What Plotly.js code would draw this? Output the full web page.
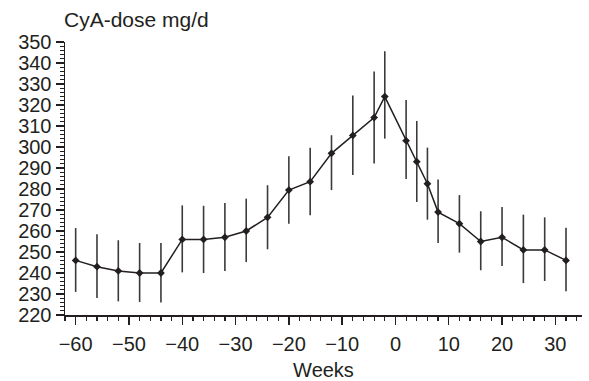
<!DOCTYPE html>
<html>
<head>
<meta charset="utf-8">
<script src="https://cdn.plot.ly/plotly-3.0.1.min.js"></script>
<style>html,body{margin:0;padding:0;background:#fff;}#chart{width:589px;height:381px;}</style>
</head>
<body>
<div id="chart"></div>
<script>
var weeks = [-60,-56,-52,-48,-44,-40,-36,-32,-28,-24,-20,-16,-12,-8,-4,-2,2,4,6,8,12,16,20,24,28,32];
var dose = [246,243,241,240,240,256,256,257,260,266.5,279.5,283.5,297,305.5,314,324,303,293,282.5,269,263.5,255,257,251,251,246];
var errUp = [15.4,15.4,14.6,14.3,14.3,16.2,16,16.3,15.4,15.3,16.1,16.2,8.6,19,22,21.6,19.4,19.4,17.2,15.5,13.6,14.4,14.4,16.8,15.5,15.6];
var errDown = [15,14.9,14.5,13.8,14,15.7,16,16,14.8,15.2,16,16,17.5,18.8,21.8,20,18.2,19.2,17.1,14.7,13.8,13.7,13.7,15.8,14.8,14.7];
var xTicks = [-60,-50,-40,-30,-20,-10,0,10,20,30];
var yTicks = [220,230,240,250,260,270,280,290,300,310,320,330,340,350];
var titleText = 'CyA-dose mg/d';
var xTitle = 'Weeks';

var ink = '#231f20';
var fnt = {family: 'Liberation Sans, Arial, sans-serif', size: 20, color: ink};
var titleFnt = {family: 'Liberation Sans, Arial, sans-serif', size: 21, color: ink};

var trace = {
  x: weeks, y: dose, type: 'scatter', mode: 'lines+markers',
  line: {color: ink, width: 1.5},
  marker: {symbol: 'diamond', size: 6, color: ink},
  error_y: {type: 'data', symmetric: false, array: errUp, arrayminus: errDown,
            color: '#3a3a3a', thickness: 1.6, width: 0},
  cliponaxis: false
};

var layout = {
  width: 589, height: 381,
  margin: {l: 65, r: 7, t: 42, b: 66, pad: 0},
  paper_bgcolor: '#fff', plot_bgcolor: '#fff',
  showlegend: false,
  font: fnt,
  xaxis: {
    range: [-62, 35], tickmode: 'array', tickvals: xTicks,
    ticks: 'outside', ticklen: 8, tickwidth: 1.3, tickcolor: ink,
    minor: {dtick: 2, tick0: 0, ticks: 'outside', ticklen: 4, tickwidth: 1.2, tickcolor: ink},
    showline: true, linecolor: ink, linewidth: 1.5,
    showgrid: false, zeroline: false,
    tickfont: fnt, ticklabelstandoff: 2,
    title: {text: xTitle, font: fnt, standoff: 12}
  },
  yaxis: {
    range: [220, 350], tickmode: 'array', tickvals: yTicks,
    ticks: 'outside', ticklen: 8, tickwidth: 1.3, tickcolor: ink,
    minor: {dtick: 2, tick0: 0, ticks: 'outside', ticklen: 4, tickwidth: 1.2, tickcolor: ink},
    showline: true, linecolor: ink, linewidth: 1.5,
    showgrid: false, zeroline: false,
    tickfont: fnt
  },
  shapes: [{type: 'line', xref: 'paper', yref: 'paper', x0: -0.016, x1: 0, y0: 0, y1: 0,
            line: {color: ink, width: 1.5}}],
  annotations: [{text: titleText, xref: 'paper', yref: 'paper', x: 0, y: 1,
                 xanchor: 'left', yanchor: 'bottom', yshift: 9, xshift: -3, showarrow: false, font: titleFnt}]
};

Plotly.newPlot('chart', [trace], layout, {staticPlot: true, displayModeBar: false});
</script>
</body>
</html>
